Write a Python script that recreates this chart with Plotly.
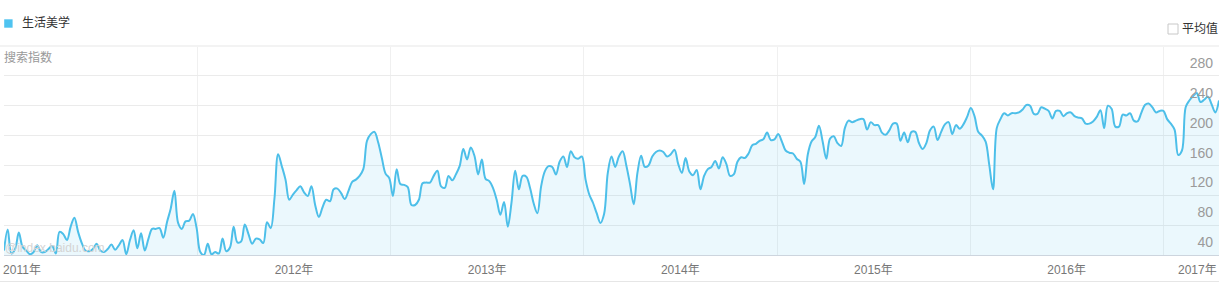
import pandas as pd
import plotly.graph_objects as go

# ---------------- data ----------------
series_name = "生活美学"
y_axis_title = "搜索指数"
avg_label = "平均值"
watermark = "@index.baidu.com"
start_date = "2011-01-01"

# weekly Baidu search index values
index_values = [
    46, 74, 42, 48, 70, 51, 46, 41, 44, 53,
    44, 44, 48, 52, 42, 71, 68, 60, 78, 90,
    71, 56, 46, 45, 48, 55, 46, 44, 48, 54,
    47, 53, 60, 41, 60, 73, 49, 69, 46, 62,
    75, 75, 76, 63, 84, 102, 126, 83, 75, 85,
    86, 95, 76, 44, 40, 55, 41, 44, 42, 62,
    45, 50, 78, 57, 58, 81, 68, 55, 62, 61,
    56, 84, 76, 115, 175, 159, 141, 114, 121, 127,
    132, 124, 119, 132, 107, 91, 104, 114, 112, 128,
    129, 123, 115, 126, 138, 141, 146, 155, 193, 202,
    205, 191, 170, 149, 143, 119, 155, 135, 134, 131,
    107, 107, 114, 136, 137, 137, 146, 153, 132, 130,
    146, 140, 148, 159, 182, 168, 184, 173, 148, 168,
    142, 139, 130, 114, 94, 111, 78, 110, 153, 128,
    146, 145, 130, 109, 96, 132, 152, 159, 158, 148,
    165, 172, 158, 179, 171, 169, 172, 141, 121, 110,
    96, 83, 95, 150, 172, 158, 172, 179, 160, 135,
    108, 150, 173, 158, 160, 172, 178, 180, 178, 172,
    175, 181, 162, 150, 170, 152, 147, 154, 128, 146,
    155, 158, 166, 156, 171, 162, 146, 148, 165, 171,
    170, 176, 187, 189, 193, 195, 204, 194, 195, 202,
    192, 180, 177, 176, 169, 165, 135, 175, 192, 198,
    213, 192, 169, 196, 199, 190, 186, 210, 220, 218,
    220, 222, 222, 208, 218, 214, 214, 204, 201, 207,
    216, 216, 193, 204, 191, 205, 205, 190, 182, 190,
    207, 212, 194, 205, 215, 218, 202, 214, 209, 215,
    225, 237, 226, 205, 200, 192, 160, 128, 210, 222,
    230, 227, 230, 230, 231, 235, 241, 240, 229, 229,
    238, 236, 233, 223, 233, 233, 226, 230, 231, 226,
    224, 223, 216, 216, 219, 225, 234, 210, 240, 236,
    212, 212, 228, 227, 230, 220, 219, 230, 241, 243,
    238, 231, 233, 233, 222, 216, 208, 174, 180, 238,
    247, 253, 257, 245, 248, 252, 242, 231, 247,
]

year_labels = ["2011年", "2012年", "2013年", "2014年", "2015年", "2016年"]
year_label_dates = ["2011-02-04", "2012-07-02", "2013-07-02", "2014-07-02",
                    "2015-07-02", "2016-07-01"]
last_year_label = "2017年"
year_start_dates = ["2012-01-01", "2013-01-01", "2014-01-01",
                    "2015-01-01", "2016-01-01", "2017-01-01"]
y_ticks = [40, 80, 120, 160, 200, 240, 280]
y_range = [40, 320]

dates = pd.date_range(start_date, periods=len(index_values), freq="7D")

# ---------------- style ----------------
FONT = "Liberation Sans, Arial, Noto Sans CJK SC, sans-serif"
LINE_COLOR = "#4dbfe9"
FILL_COLOR = "rgba(77,191,233,0.11)"

fig = go.Figure()
fig.add_trace(go.Scatter(
    x=dates, y=index_values, mode="lines", name=series_name,
    line=dict(color=LINE_COLOR, width=2, shape="spline", smoothing=1.0),
    fill="tozeroy", fillcolor=FILL_COLOR, hoverinfo="x+y",
))

fig.update_layout(
    width=1219, height=283,
    margin=dict(l=4, r=0, t=46, b=28),
    paper_bgcolor="white", plot_bgcolor="white",
    showlegend=False,
    font=dict(family=FONT),
    xaxis=dict(
        range=[dates[0], dates[-1]],
        tickvals=year_label_dates, ticktext=year_labels,
        tickfont=dict(size=12, color="#777777"),
        ticks="", showgrid=False, zeroline=False,
        ticklabelstandoff=4,
        showline=True, linecolor="#cdd5de", linewidth=1,
        minor=dict(tickvals=year_start_dates, showgrid=True,
                   gridcolor="#f0f0f0", gridwidth=1, ticks=""),
    ),
    yaxis=dict(
        range=y_range, tickvals=y_ticks,
        side="right", ticklabelposition="inside top",
        ticklabelstandoff=3, ticklabelshift=-3,
        tickfont=dict(size=14, color="#9a9a9a"),
        ticks="", showgrid=True, gridcolor="#ebebeb", gridwidth=1,
        zeroline=False, showline=False,
    ),
)

# plot-area pixel helpers (for header decorations)
PX_L, PX_W, PX_B, PX_H = 4, 1215, 255, 209
def px(x):
    return (x - PX_L) / PX_W
def py(y):
    return (PX_B - y) / PX_H

shapes = [
    dict(type="rect", xref="paper", yref="paper",
         x0=px(4.2), x1=px(12.6), y0=py(27.7), y1=py(19.3),
         fillcolor="#4fc3f0", line=dict(width=0)),
    dict(type="rect", xref="paper", yref="paper",
         x0=px(1168), x1=px(1178), y0=py(34), y1=py(24),
         fillcolor="white", line=dict(color="#c8c8c8", width=1)),
    dict(type="line", xref="paper", yref="paper",
         x0=px(0), x1=px(1219), y0=py(46), y1=py(46),
         line=dict(color="#f3f3f3", width=2)),
    dict(type="line", xref="paper", yref="paper",
         x0=px(0), x1=px(1219), y0=py(281.5), y1=py(281.5),
         line=dict(color="#e6e6e6", width=1)),
]
fig.update_layout(shapes=shapes)

annotations = [
    dict(text=series_name, xref="paper", yref="paper", x=px(19.5), y=py(22.5),
         xanchor="left", yanchor="middle", showarrow=False,
         font=dict(size=12, color="#333333")),
    dict(text=avg_label, xref="paper", yref="paper", x=px(1179.5), y=py(29),
         xanchor="left", yanchor="middle", showarrow=False,
         font=dict(size=12, color="#333333")),
    dict(text=y_axis_title, xref="paper", yref="paper", x=px(2), y=py(57.5),
         xanchor="left", yanchor="middle", showarrow=False,
         font=dict(size=12, color="#999999")),
    dict(text=watermark, xref="paper", yref="paper", x=px(3), y=py(248),
         xanchor="left", yanchor="middle", showarrow=False,
         font=dict(size=12, color="#d4d4d4")),
    dict(text=last_year_label, xref="x", yref="paper", x=dates[-1], y=py(269.5),
         xanchor="right", yanchor="middle", showarrow=False,
         font=dict(size=12, color="#777777")),
]
fig.update_layout(annotations=annotations)

fig.write_html("out.html")
